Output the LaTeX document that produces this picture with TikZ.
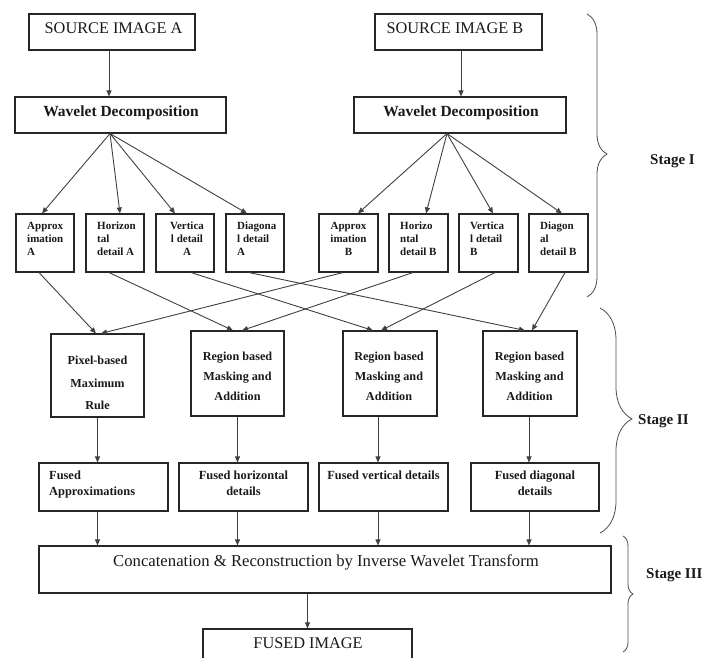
\documentclass[tikz,border=0pt]{standalone}
\usepackage{fontspec}
\setmainfont{Liberation Serif}
\usetikzlibrary{arrows.meta,decorations.pathreplacing}
\begin{document}
\begin{tikzpicture}[x=1pt,y=-1pt,
  bx/.style={draw=black!85, line width=1.1pt, inner sep=0pt, fill=none},
  ln/.style={draw=black!75, line width=0.9pt},
  ar/.style={ln, -{Triangle[length=6pt,width=5pt]}},
  brc/.style={draw=black!70, line width=0.8pt, decorate},
  tx/.style={inner sep=0pt, text=black!90},
  big/.style={tx, font=\fontsize{16.3}{18}\selectfont},
  bigb/.style={tx, font=\fontsize{15.5}{18}\selectfont\bfseries},
  small/.style={tx, font=\fontsize{11}{13}\selectfont\bfseries, align=left},
  mid/.style={tx, font=\fontsize{12.4}{16}\selectfont\bfseries, align=center},
  stg/.style={tx, font=\fontsize{15}{16}\selectfont\bfseries, anchor=base west}
]
\useasboundingbox (0,0) rectangle (705,658);
\clip (0,0) rectangle (705,658);

% top boxes
\node[bx, minimum width=166pt, minimum height=36pt] (SA) at (112,32) {};
\node[bx, minimum width=167pt, minimum height=36pt] (SB) at (458.5,32) {};
\node[bx, minimum width=211pt, minimum height=36pt] (WA) at (120.5,115) {};
\node[bx, minimum width=212pt, minimum height=36pt] (WB) at (460,115) {};
\node[big, anchor=base] (tSA) at (113.5,34) {SOURCE IMAGE A};
\node[big, anchor=base] (tSB) at (455,34) {SOURCE IMAGE B};
\node[bigb, anchor=base] (tWA) at (121,117) {Wavelet Decomposition};
\node[bigb, anchor=base] (tWB) at (461,117) {Wavelet Decomposition};

% row 1 boxes
\foreach \n/\x in {AA/45,HA/115,VA/185,DA/255}
  \node[bx, minimum width=58pt, minimum height=58pt] (\n) at (\x,243) {};
\foreach \n/\x in {AB/348.5,HB/418.5,VB/488.5,DB/558.5}
  \node[bx, minimum width=59pt, minimum height=58pt] (\n) at (\x,243) {};
\node[small, anchor=north west] (tAA) at (27,220.4) {\strut Approx\\imation\\A};
\node[small, anchor=north west] (tHA) at (97,220.4) {\strut Horizon\\tal\\detail A};
\node[small, anchor=north, align=center] (tVA) at (187,220.4) {\strut Vertica\\l detail\\A};
\node[small, anchor=north west] (tDA) at (237,220.4) {\strut Diagona\\l detail\\A};
\node[small, anchor=north, align=center] (tAB) at (348.5,220.4) {\strut Approx\\imation\\B};
\node[small, anchor=north west] (tHB) at (400,220.4) {\strut Horizo\\ntal\\detail B};
\node[small, anchor=north west] (tVB) at (470,220.4) {\strut Vertica\\l detail\\B};
\node[small, anchor=north west] (tDB) at (540,220.4) {\strut Diagon\\al\\detail B};

% row 2 boxes
\node[bx, minimum width=93pt, minimum height=83pt] (P) at (97.5,375.5) {};
\node[bx, minimum width=93pt, minimum height=85pt] (R1) at (237.5,373.5) {};
\node[bx, minimum width=94pt, minimum height=85pt] (R2) at (390,373.5) {};
\node[bx, minimum width=94pt, minimum height=85pt] (R3) at (530,373.5) {};
\node[mid, font=\fontsize{12.2}{22.5}\selectfont\bfseries, anchor=north] (tP) at (97.5,349) {\strut Pixel-based\\Maximum\\Rule};
\node[mid, font=\fontsize{12.2}{20}\selectfont\bfseries, anchor=north] (tR1) at (237.5,346) {\strut Region based\\Masking and\\Addition};
\node[mid, font=\fontsize{12.2}{20}\selectfont\bfseries, anchor=north] (tR2) at (389,346) {\strut Region based\\Masking and\\Addition};
\node[mid, font=\fontsize{12.2}{20}\selectfont\bfseries, anchor=north] (tR3) at (529.5,346) {\strut Region based\\Masking and\\Addition};

% fused boxes
\node[bx, minimum width=129pt, minimum height=48pt] (FA) at (103.5,487) {};
\node[bx, minimum width=129pt, minimum height=48pt] (FH) at (243.5,487) {};
\node[bx, minimum width=129pt, minimum height=48pt] (FV) at (383.5,487) {};
\node[bx, minimum width=128pt, minimum height=48pt] (FD) at (535,487) {};
\node[mid, align=left, anchor=north west] (tFA) at (49,467.8) {\strut Fused\\Approximations};
\node[mid, anchor=north] (tFH) at (243.5,467.8) {\strut Fused horizontal\\details};
\node[mid, anchor=north] (tFV) at (383.5,467.8) {\strut Fused vertical details};
\node[mid, anchor=north] (tFD) at (535,467.8) {\strut Fused diagonal\\details};

% bottom boxes
\node[bx, minimum width=572pt, minimum height=47pt] (C) at (325,569.5) {};
\node[big, font=\fontsize{16.7}{18}\selectfont, anchor=base] (tC) at (326,566) {Concatenation \& Reconstruction by Inverse Wavelet Transform};
\node[bx, minimum width=209pt, minimum height=44pt] (FI) at (307.5,651) {};
\node[big, anchor=base] (tFI) at (308,648) {FUSED IMAGE};

% source -> wavelet
\draw[ar] ([xshift=-3pt]SA.south) -- ([xshift=-3pt]SA.south |- WA.north);
\draw[ar] ([xshift=2.5pt]SB.south) -- ([xshift=2.5pt]SB.south |- WB.north);

% fans
\coordinate (oA) at ([xshift=-10.5pt]WA.south);
\coordinate (oB) at ([xshift=-13pt]WB.south);
\draw[ar] (oA) -- ([xshift=-3pt]AA.north);
\draw[ar] (oA) -- ([xshift=5pt]HA.north);
\draw[ar] (oA) -- ([xshift=-10pt]VA.north);
\draw[ar] (oA) -- ([xshift=-8pt]DA.north);
\draw[ar] (oB) -- ([xshift=9.5pt]AB.north);
\draw[ar] (oB) -- ([xshift=7.5pt]HB.north);
\draw[ar] (oB) -- ([xshift=4.5pt]VB.north);
\draw[ar] (oB) -- ([xshift=3.5pt]DB.north);

% crossings
\draw[ar] ([xshift=-6pt]AA.south) -- ([xshift=-1.5pt]P.north);
\draw[ar] ([xshift=-5.5pt]AB.south) -- ([xshift=3.5pt]P.north);
\draw[ar] ([xshift=-6pt]HA.south) -- ([xshift=-4.5pt]R1.north);
\draw[ar] ([xshift=-5.5pt]HB.south) -- ([xshift=4.5pt]R1.north);
\draw[ar] ([xshift=6pt]VA.south) -- ([xshift=-17pt]R2.north);
\draw[ar] ([xshift=6.5pt]VB.south) -- ([xshift=-9pt]R2.north);
\draw[ar] ([xshift=-6pt]DA.south) -- ([xshift=-5pt]R3.north);
\draw[ar] ([xshift=6.5pt]DB.south) -- ([xshift=2pt]R3.north);

% down arrows
\coordinate (dP) at ([xshift=0pt]P.south);
\coordinate (d1) at ([xshift=0pt]R1.south);
\coordinate (d2) at ([xshift=-12pt]R2.south);
\coordinate (d3) at ([xshift=-1pt]R3.south);
\draw[ar] (dP) -- (dP |- FA.north);
\draw[ar] (d1) -- (d1 |- FH.north);
\draw[ar] (d2) -- (d2 |- FV.north);
\draw[ar] (d3) -- (d3 |- FD.north);
\draw[ar] (dP |- FA.south) -- (dP |- C.north);
\draw[ar] (d1 |- FH.south) -- (d1 |- C.north);
\draw[ar] (d2 |- FV.south) -- (d2 |- C.north);
\draw[ar] (d3 |- FD.south) -- (d3 |- C.north);
\draw[ar] (FI.north |- C.south) -- (FI.north);

% braces
\coordinate (b1t) at (587,14);
\coordinate (b1b) at (587,297);
\coordinate (b2t) at (600,308);
\coordinate (b2b) at (600,533);
\coordinate (b3t) at (623,536);
\coordinate (b3b) at (623,652);
\draw[brc, decoration={brace, amplitude=20pt, aspect=0.495}] (b1t) -- (b1b);
\draw[brc, decoration={brace, amplitude=32pt, aspect=0.493}] (b2t) -- (b2b);
\draw[brc, decoration={brace, amplitude=10pt, aspect=0.5}] (b3t) -- (b3b);
\node[stg] (s1) at (650,165) {Stage I};
\node[stg] (s2) at (638,424) {Stage II};
\node[stg] (s3) at (646,578) {Stage III};
\end{tikzpicture}
\end{document}
